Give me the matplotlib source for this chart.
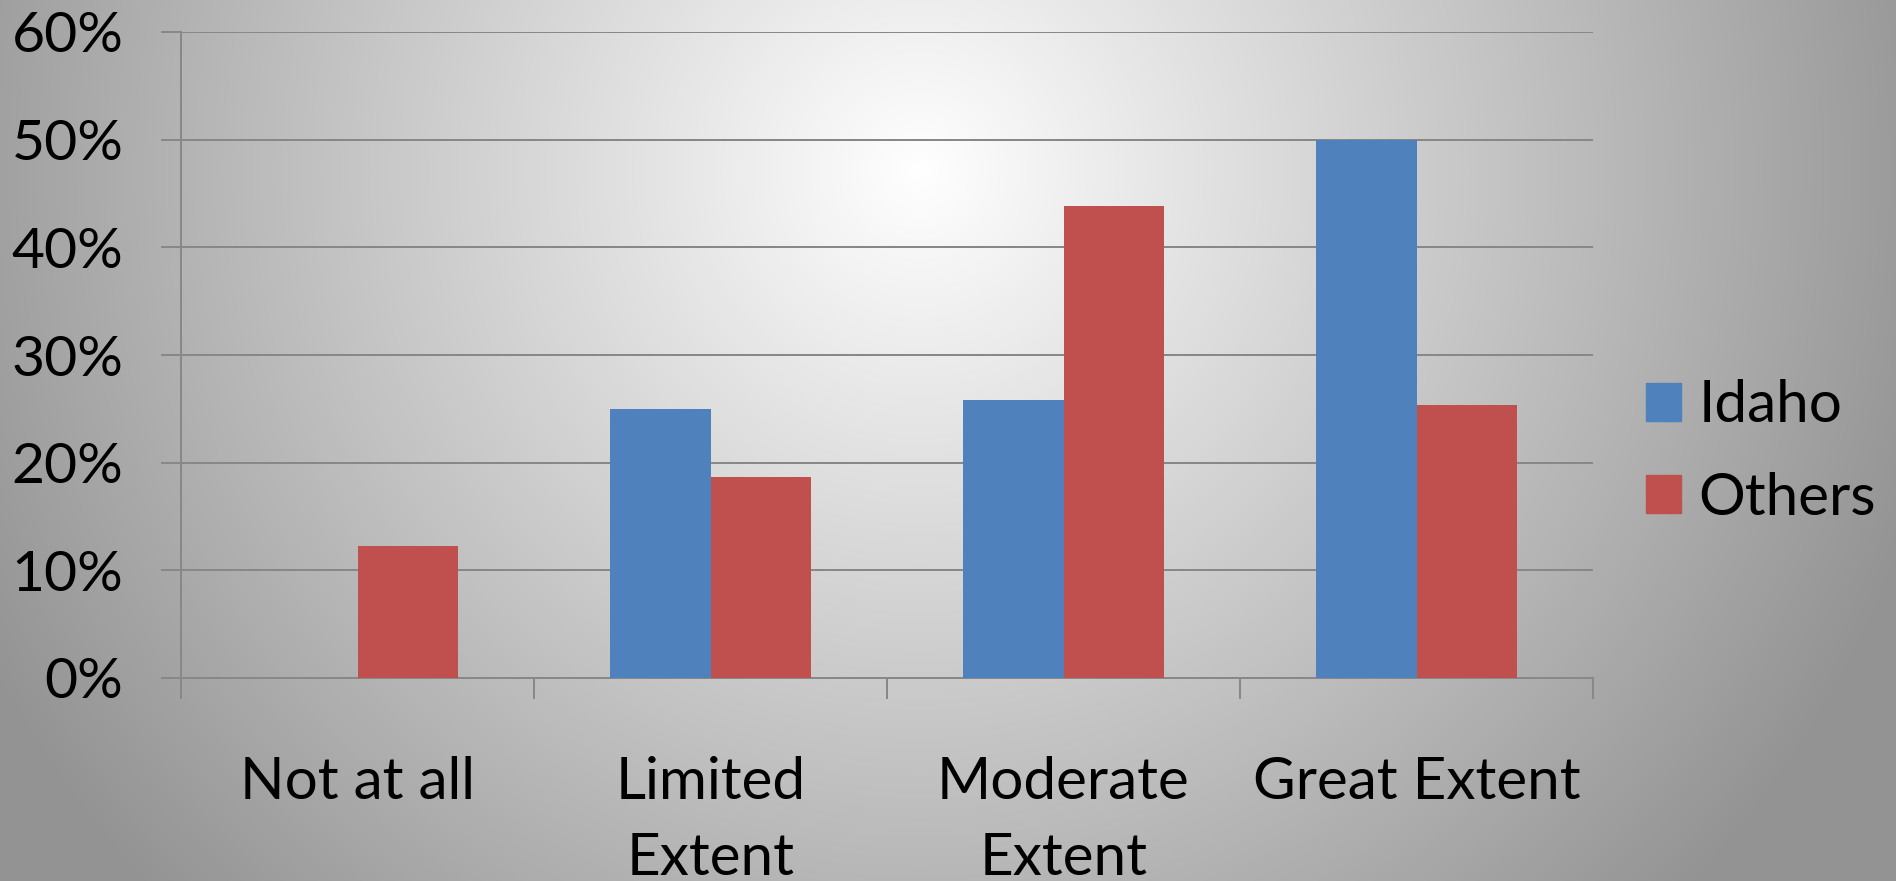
import numpy as np
import matplotlib
matplotlib.use("Agg")
import matplotlib.pyplot as plt
from matplotlib.patches import Patch

categories = ["Not at all", "Limited\nExtent", "Moderate\nExtent", "Great Extent"]
idaho = [0.0, 25.0, 25.8, 50.0]
others = [12.3, 18.7, 43.8, 25.4]
series_names = ["Idaho", "Others"]
yticks = [0, 10, 20, 30, 40, 50, 60]
ytick_labels = ["0%", "10%", "20%", "30%", "40%", "50%", "60%"]

BLUE = "#4F81BD"
RED = "#C0504D"
GRID = "#888888"

plt.rcParams['font.family'] = ['Lato', 'DejaVu Sans']

W, H = 1896, 881
fig = plt.figure(figsize=(W / 100, H / 100), dpi=100)

# radial gradient background
bg = fig.add_axes([0, 0, 1, 1], zorder=-10)
yy, xx = np.mgrid[0:H, 0:W]
cx, cy = 919, 170
d = np.sqrt((xx - cx) ** 2 + (yy - cy) ** 2)
t = np.clip(d / 1050.0, 0, 1)
val = 1.0 - 0.42 * t
img = np.dstack([val, val, val])
bg.imshow(img, aspect="auto", extent=[0, 1, 0, 1], interpolation="bilinear")
bg.set_axis_off()

ax = fig.add_axes([181 / W, 1 - 678 / H, (1593 - 181) / W, (678 - 32) / H])
ax.patch.set_alpha(0)

x = np.arange(len(categories))
bw = 1 / 3.5
ax.bar(x - bw / 2, idaho, width=bw, color=BLUE, zorder=3, label=series_names[0])
ax.bar(x + bw / 2, others, width=bw, color=RED, zorder=3, label=series_names[1])

ax.set_xlim(-0.5, len(categories) - 0.5)
ax.set_ylim(0, 60)

ax.set_yticks(yticks)
ax.set_yticklabels(ytick_labels, fontsize=41)
ax.yaxis.grid(True, color=GRID, linewidth=2 * 0.72, zorder=0)
ax.tick_params(axis="y", length=20 * 0.72, width=2 * 0.72, color=GRID, pad=27)

ax.set_xticks(np.arange(-0.5, len(categories), 1.0))
ax.set_xticklabels([])
ax.set_xticks(x, minor=True)
ax.set_xticklabels(categories, minor=True, fontsize=42, linespacing=1.55)
ax.tick_params(axis="x", which="major", length=21 * 0.72, width=2 * 0.72, color=GRID)
ax.tick_params(axis="x", which="minor", length=0, pad=56)

for s in ["top", "right"]:
    ax.spines[s].set_visible(False)
for s in ["left", "bottom"]:
    ax.spines[s].set_color(GRID)
    ax.spines[s].set_linewidth(2 * 0.72)
ax.set_axisbelow(True)

handles = [Patch(color=BLUE), Patch(color=RED)]
fig.legend(handles, series_names, loc="center left",
           bbox_to_anchor=(1646 / W, 1 - 452 / H), bbox_transform=fig.transFigure,
           frameon=False, fontsize=42, handlelength=0.6, handleheight=0.62,
           handletextpad=0.3, labelspacing=0.68, borderpad=0, borderaxespad=0)

fig.savefig("out.png", dpi=100)
